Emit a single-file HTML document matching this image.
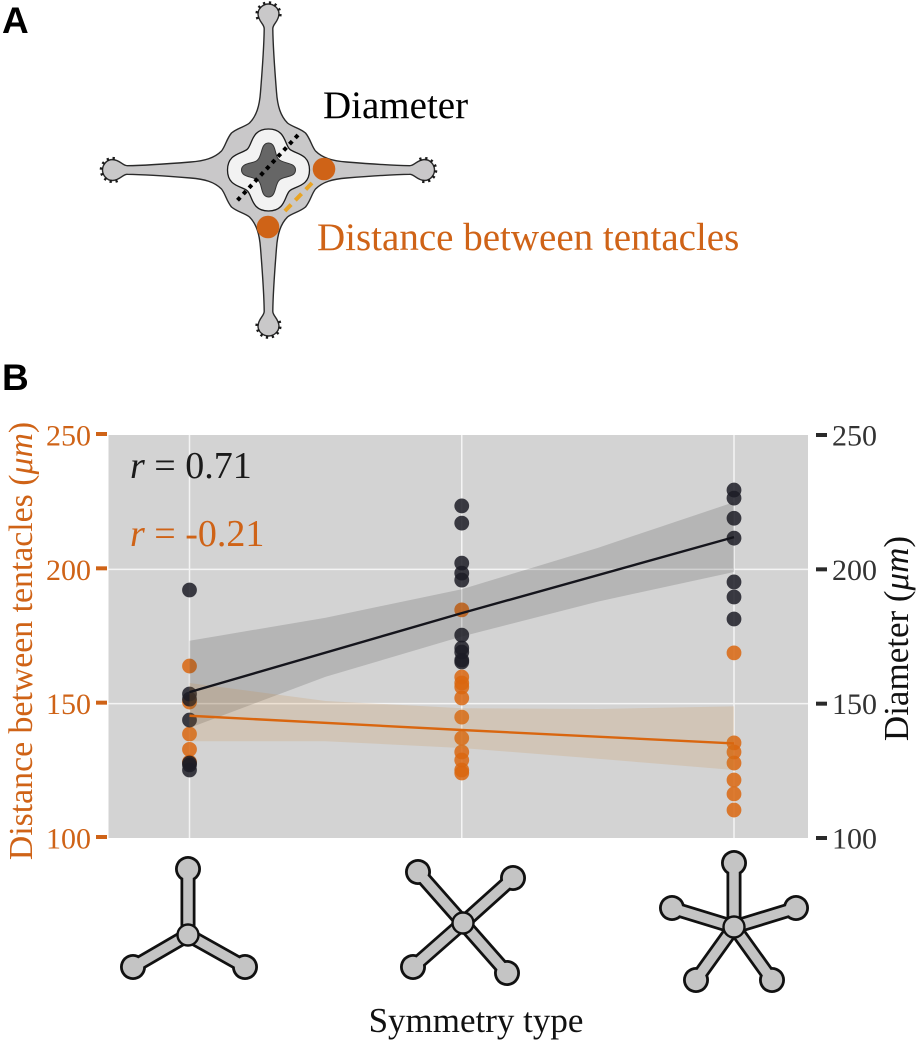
<!DOCTYPE html>
<html lang="en">
<head>
<meta charset="utf-8">
<title>Tentacle symmetry chart</title>
<style>
html,body{margin:0;padding:0;background:#fff;}
svg{display:block;}
text{font-family:"Liberation Serif",serif;}
.panel-letter{font-family:"Liberation Sans",sans-serif;font-weight:700;font-size:37px;fill:#000;}
</style>
</head>
<body>
<svg id="root" width="922" height="1042" viewBox="0 0 922 1042" xmlns="http://www.w3.org/2000/svg">
  <text class="panel-letter" x="2" y="33">A</text>
  <text class="panel-letter" x="2" y="390">B</text>

  <g id="medusa" transform="translate(268.5 170)">
    <path id="medusa-body" fill="#c9c8c9" stroke="#2a2a2a" stroke-width="1.4"></path>
    <path id="medusa-ring" fill="#f2f2f2" stroke="#1c1c1c" stroke-width="1.3"></path>
    <path id="medusa-core" fill="#666666" stroke="#333" stroke-width="1"></path>
    <g id="medusa-spikes" fill="none" stroke="#1a1a1a" stroke-width="3.2" stroke-dasharray="2.2 3.6"></g>
  </g>
  <line x1="298" y1="135" x2="235" y2="203" stroke="#000" stroke-width="4" stroke-dasharray="4 4.5"></line>
  <line x1="312" y1="183" x2="282" y2="214" stroke="#e8a426" stroke-width="4" stroke-dasharray="9 6"></line>
  <circle cx="324" cy="169" r="11.3" fill="#cf6317"></circle>
  <circle cx="268" cy="227" r="11.3" fill="#cf6317"></circle>
  <text x="323" y="118" font-size="39" fill="#000">Diameter</text>
  <text x="317" y="250" font-size="39" fill="#cf6317">Distance between tentacles</text>

  <g id="chart">
    <rect x="108.5" y="435" width="699.5" height="403" fill="#d3d3d3"></rect>
    <g id="grid"></g>
    <g id="points-layer"></g>
    <g id="bands-layer"></g>
    <g id="lines-layer"></g>
    <g id="axes-layer"></g>
  </g>
  <text x="130" y="478" font-size="38" fill="#1a1a1a"><tspan font-style="italic">r</tspan> = 0.71</text>
  <text x="130" y="546" font-size="38" fill="#cf6317"><tspan font-style="italic">r</tspan> = -0.21</text>
  <text transform="translate(32 641) rotate(-90)" text-anchor="middle" font-size="33.8" fill="#cf6317">Distance between tentacles (<tspan font-style="italic">μm</tspan>)</text>
  <text transform="translate(908 638.5) rotate(-90)" text-anchor="middle" font-size="35" fill="#111">Diameter (<tspan font-style="italic">μm</tspan>)</text>
  <text x="476" y="1032" text-anchor="middle" font-size="35" fill="#111">Symmetry type</text>
  <g id="glyphs"></g>
</svg>
<script>
// ---- chart data ----
const categories = [3, 4, 5];
const yTicks = [100, 150, 200, 250];
const bandPositions = [3, 3.5, 4, 4.5, 5];

const diameterTri = [192.3, 153.6, 151.7, 143.9, 127.9, 127.2, 125.3];
const diameterTetra = [223.6, 217.2, 202.3, 198.6, 196, 175.5, 170.7, 169.2, 166.2, 165.5];
const diameterPenta = [229.5, 226.5, 219, 211.6, 195.3, 189.7, 181.5];
const distanceTri = [164, 150.6, 138.7, 133, 128.3];
const distanceTetra = [184.9, 159.9, 157.7, 156.2, 152.1, 145, 137.2, 132, 129, 125.3, 124.2];
const distancePenta = [168.9, 135.4, 132, 127.9, 121.6, 116.4, 110.4];

const diameterFit = [154.3, 183.7, 212];
const distanceFit = [145.5, 140.2, 135.2];
const diameterBandUpper = [173.4, 182, 192.6, 208, 225];
const diameterBandLower = [141, 160, 175, 188, 199];
const distanceBandUpper = [157.7, 151, 148.3, 148, 149];
const distanceBandLower = [136, 136, 133.5, 129.5, 125.3];

// ---- axis functions ----
const SVGNS = 'http://www.w3.org/2000/svg';
function xScale(c) { return 189.5 + (c - 3) * (734 - 189.5) / 2; }
function yScale(v) { return 838 - (v - 100) * (838 - 435) / 150; }
function make(tag, parent, attrs) {
  const el = document.createElementNS(SVGNS, tag);
  for (const k in attrs) el.setAttribute(k, attrs[k]);
  parent.appendChild(el);
  return el;
}

const grid = document.getElementById('grid');
[150, 200].forEach(function (t) {
  const g = make('line', grid, { x1: 108.5, x2: 808, y1: yScale(t), y2: yScale(t), stroke: '#f4f4f4', 'stroke-width': 1.5 });
  
  
});
categories.forEach(function (c) {
  const g = make('line', grid, { x1: xScale(c), x2: xScale(c), y1: 435, y2: 838, stroke: '#f4f4f4', 'stroke-width': 1.5 });
  
  
});

const pointsLayer = document.getElementById('points-layer');
function drawPoints(values, cat, color, name) {
  values.forEach(function (v) {
    const p = make('circle', pointsLayer, { cx: xScale(cat), cy: yScale(v), r: 7.4, fill: color, 'fill-opacity': 0.85 });
    
    
  });
}
drawPoints(distanceTri, categories[0], '#d9660f', 'distance-point');
drawPoints(distanceTetra, categories[1], '#d9660f', 'distance-point');
drawPoints(distancePenta, categories[2], '#d9660f', 'distance-point');
drawPoints(diameterTri, categories[0], '#1c1c26', 'diameter-point');
drawPoints(diameterTetra, categories[1], '#1c1c26', 'diameter-point');
drawPoints(diameterPenta, categories[2], '#1c1c26', 'diameter-point');

const bandsLayer = document.getElementById('bands-layer');
function bandPath(upper, lower) {
  let d = '';
  bandPositions.forEach(function (c, i) { d += (i ? 'L' : 'M') + xScale(c) + ' ' + yScale(upper[i]); });
  for (let i = bandPositions.length - 1; i >= 0; i--) d += 'L' + xScale(bandPositions[i]) + ' ' + yScale(lower[i]);
  return d + 'Z';
}
const bandDiameter = make('path', bandsLayer, { d: bandPath(diameterBandUpper, diameterBandLower), fill: '#222', 'fill-opacity': 0.17 });


const bandDistance = make('path', bandsLayer, { d: bandPath(distanceBandUpper, distanceBandLower), fill: '#c9802f', 'fill-opacity': 0.17 });



const linesLayer = document.getElementById('lines-layer');
function linePath(vals) {
  return vals.map(function (v, i) { return (i ? 'L' : 'M') + xScale(categories[i]) + ' ' + yScale(v); }).join('');
}
const lineDiameter = make('path', linesLayer, { d: linePath(diameterFit), fill: 'none', stroke: '#15151c', 'stroke-width': 2.4 });


const lineDistance = make('path', linesLayer, { d: linePath(distanceFit), fill: 'none', stroke: '#d9660f', 'stroke-width': 2.4 });



const axesLayer = document.getElementById('axes-layer');
yTicks.forEach(function (t) {
  const y = yScale(t);
  const lt = make('line', axesLayer, { x1: 96, x2: 107, y1: y - 1, y2: y - 1, stroke: '#cf6317', 'stroke-width': 4 });
  
  
  const ll = make('text', axesLayer, { x: 91, y: y + 10.5, 'text-anchor': 'end', 'font-size': 30, fill: '#cf6317' });
  ll.textContent = t;
  
  
  const rt = make('line', axesLayer, { x1: 816, x2: 827, y1: y, y2: y, stroke: '#2a2a2a', 'stroke-width': 4 });
  
  
  const rl = make('text', axesLayer, { x: 832, y: y + 10.5, 'font-size': 30, fill: '#333' });
  rl.textContent = t;
  
  
});

// ---- medusa diagram outline (one quadrant rotated four times) ----
const bodyQuarter = [[-37,-37],[-31,-42],[-24,-43],[-19,-47],[-12,-54],[-9,-64],[-8,-78],[-6,-103],[-4.5,-125],[-4.3,-141],[-4,-146],[-10,-148],[-10.5,-156],[-10.5,-162],[-5,-166],[0,-166],[5,-166],[10.5,-162],[10.5,-156],[10,-148],[4,-146],[4.3,-141],[4.5,-125],[6,-103],[8,-78],[9,-64],[12,-54],[19,-47],[24,-43],[31,-42]];
const ringQuarter = [[-21,-21],[-16,-26],[-17,-41],[0,-41],[17,-41],[16,-26]];
const coreQuarter = [[-11,-10],[-6,-14],[-8,-27],[0,-27],[8,-27],[6,-14]];
function quarterClosedPath(pts) {
  let out = [];
  for (let q = 0; q < 4; q++) {
    pts.forEach(function (p) {
      let x = p[0], y = p[1];
      for (let k = 0; k < q; k++) { const t = x; x = -y; y = t; }
      out.push([x, y]);
    });
  }
  let d = 'M' + out[0][0] + ' ' + out[0][1] + ' C';
  for (let i = 1; i < out.length; i++) d += ' ' + out[i][0] + ' ' + out[i][1];
  return d + ' ' + out[0][0] + ' ' + out[0][1] + 'Z';
}
document.getElementById('medusa-body').setAttribute('d', quarterClosedPath(bodyQuarter));
document.getElementById('medusa-ring').setAttribute('d', quarterClosedPath(ringQuarter));
document.getElementById('medusa-core').setAttribute('d', quarterClosedPath(coreQuarter));
const spikeGroup = document.getElementById('medusa-spikes');
[0, 90, 180, 270].forEach(function (a) {
  const s = make('path', spikeGroup, { d: 'M-10.5 -151 A11.5 11.5 0 1 1 10.5 -151', transform: 'rotate(' + a + ')' });
  
  
});

// ---- symmetry icons ----
const icons = [
  { name: 'three-arm-icon', c: [188, 935], arms: [[188, 869], [133, 967], [245, 967]] },
  { name: 'four-arm-icon', c: [463, 923], arms: [[418, 872], [513, 878], [413, 967], [507, 973]] },
  { name: 'five-arm-icon', c: [734, 927], arms: [[734, 863], [672, 908], [796, 908], [696, 980], [772, 980]] }
];
const glyphs = document.getElementById('glyphs');
icons.forEach(function (ic) {
  const g = make('g', glyphs, {});
  
  
  ic.arms.forEach(function (a) {
    make('line', g, { x1: ic.c[0], y1: ic.c[1], x2: a[0], y2: a[1], stroke: '#111', 'stroke-width': 15 });
    make('circle', g, { cx: a[0], cy: a[1], r: 13, fill: '#111' });
  });
  ic.arms.forEach(function (a) {
    make('line', g, { x1: ic.c[0], y1: ic.c[1], x2: a[0], y2: a[1], stroke: '#c4c4c4', 'stroke-width': 9.5 });
    make('circle', g, { cx: a[0], cy: a[1], r: 10.2, fill: '#c4c4c4' });
  });
  make('circle', g, { cx: ic.c[0], cy: ic.c[1], r: 10.5, fill: '#c4c4c4', stroke: '#111', 'stroke-width': 2.4 });
});
</script>
</body>
</html>
